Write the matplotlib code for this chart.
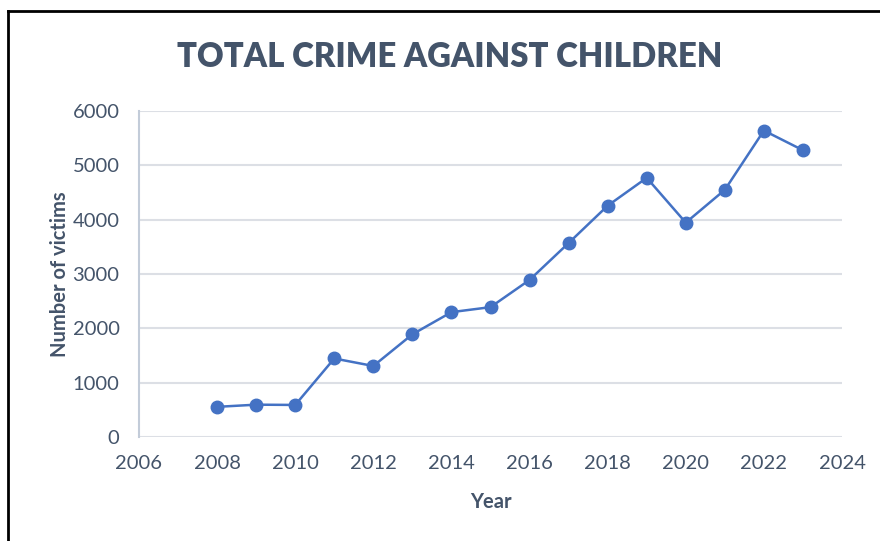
import matplotlib.pyplot as plt
from matplotlib.lines import Line2D

# data
years = [2008, 2009, 2010, 2011, 2012, 2013, 2014, 2015,
         2016, 2017, 2018, 2019, 2020, 2021, 2022, 2023]
victims = [555, 595, 590, 1445, 1307, 1890, 2298, 2390,
           2891, 3570, 4257, 4770, 3945, 4549, 5640, 5278]
x_ticks = list(range(2006, 2025, 2))
y_ticks = list(range(0, 6001, 1000))

text_col = '#44546a'
blue = '#4472c4'

plt.rcParams['font.family'] = ['Lato', 'DejaVu Sans']

fig = plt.figure(figsize=(8.8, 5.41), dpi=100)
ax = fig.add_axes([139/880, 1 - 437/541, (842-139)/880, (437-111)/541])

ax.plot(years, victims, color=blue, lw=1.8, marker='o', ms=9,
        markerfacecolor=blue, markeredgecolor=blue, zorder=3)

ax.set_xlim(2006, 2024)
ax.set_ylim(0, 6000)
ax.set_xticks(x_ticks)
ax.set_yticks(y_ticks)
ax.grid(axis='y', color='#dcdfe5', lw=1.5)
ax.set_axisbelow(True)
for s in ['top', 'right', 'bottom']:
    ax.spines[s].set_visible(False)
ax.spines['left'].set_color('#c3ccd9')
ax.spines['left'].set_linewidth(1.5)
ax.tick_params(length=0, labelsize=14.5, labelcolor=text_col)
ax.tick_params(axis='x', pad=13)
ax.tick_params(axis='y', pad=14)

ax.set_xlabel('Year', fontsize=14.5, fontweight='bold', color=text_col, labelpad=14)
ax.set_ylabel('Number of victims', fontsize=14.5, fontweight='bold', color=text_col, labelpad=2)

fig.text(450/880, 1 - 57/541, 'TOTAL CRIME AGAINST CHILDREN', ha='center', va='center',
         fontsize=23.7, fontweight='heavy', color=text_col)

# frame lines at top and left of the screenshot
fig.add_artist(Line2D([8/880, 1], [1 - 11/541, 1 - 11/541], color='black', lw=2))
fig.add_artist(Line2D([8/880, 8/880], [0, 1 - 11/541], color='black', lw=2))

fig.savefig('out.png', dpi=100)
